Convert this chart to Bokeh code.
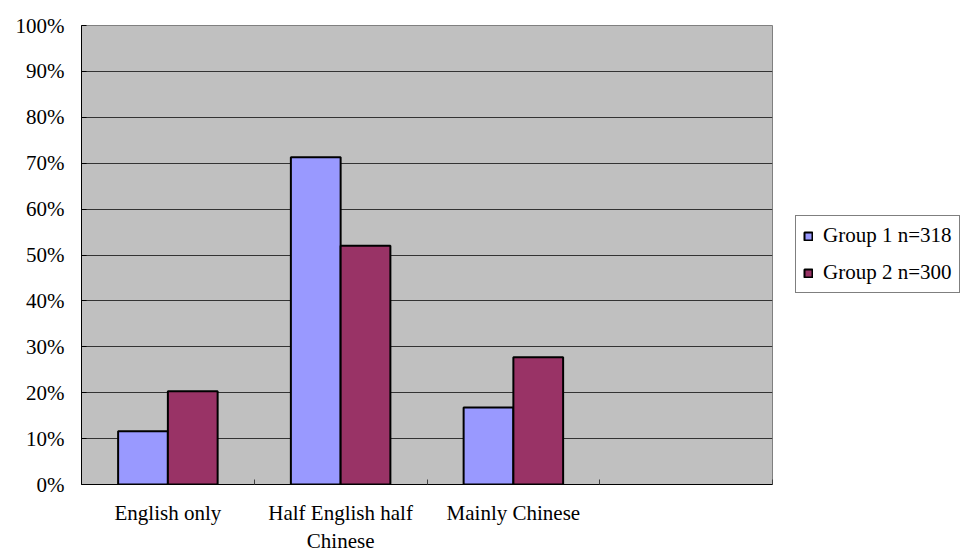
from bokeh.plotting import figure
from bokeh.models import (ColumnDataSource, Range1d, FixedTicker, NumeralTickFormatter,
                          Legend, LegendItem)
from bokeh.transform import dodge
from bokeh.embed import file_html
from bokeh.resources import INLINE

# Language used, share of respondents per group
categories = ["English only", "Half English half\nChinese", "Mainly Chinese"]
group1 = [0.116, 0.713, 0.168]
group2 = [0.203, 0.520, 0.277]
series_names = ["Group 1 n=318", "Group 2 n=300"]
series_colors = ["#9999FF", "#993366"]
y_ticks = [0.0, 0.1, 0.2, 0.3, 0.4, 0.5, 0.6, 0.7, 0.8, 0.9, 1.0]
n_slots = 4  # the category axis keeps one empty slot on the right

FONT = "Liberation Serif"
FONT_SIZE = "21px"

centers = [i + 0.5 for i in range(len(categories))]
source = ColumnDataSource(dict(x=centers, g1=group1, g2=group2))

p = figure(frame_width=691, frame_height=459, output_backend="svg",
           toolbar_location=None,
           x_range=Range1d(0, n_slots), y_range=Range1d(0, 1),
           min_border_left=81, min_border_right=190, min_border_top=25,
           min_border_bottom=70)

p.background_fill_color = "#C0C0C0"
p.border_fill_color = "white"
p.outline_line_color = "#808080"
p.outline_line_width = 1

bar_w = 0.288
r1 = p.vbar(x=dodge("x", -bar_w / 2, range=p.x_range), top="g1", width=bar_w,
            source=source, fill_color=series_colors[0], line_color="black",
            line_width=2)
r2 = p.vbar(x=dodge("x", bar_w / 2, range=p.x_range), top="g2", width=bar_w,
            source=source, fill_color=series_colors[1], line_color="black",
            line_width=2)

# grid
p.xgrid.grid_line_color = None
p.ygrid.ticker = FixedTicker(ticks=y_ticks)
p.ygrid.grid_line_color = "#333333"
p.ygrid.grid_line_width = 1

# y axis
p.yaxis.ticker = FixedTicker(ticks=y_ticks)
p.yaxis.formatter = NumeralTickFormatter(format="0%")
p.yaxis.axis_line_color = "black"
p.yaxis.axis_line_width = 1
p.yaxis.major_tick_in = 5
p.yaxis.major_tick_out = 0
p.yaxis.minor_tick_line_color = None
p.yaxis.major_label_standoff = 17
p.yaxis.major_label_text_font = FONT
p.yaxis.major_label_text_font_size = FONT_SIZE
p.yaxis.major_label_text_color = "black"

# x axis: labels at slot centres, small boundary ticks between slots
p.xaxis.ticker = FixedTicker(ticks=centers,
                             minor_ticks=[float(i) for i in range(n_slots + 1)])
p.xaxis.major_label_overrides = {c: lab for c, lab in zip(centers, categories)}
p.xaxis.major_tick_line_color = None
p.xaxis.major_tick_in = 0
p.xaxis.major_tick_out = 0
p.xaxis.minor_tick_in = 5
p.xaxis.minor_tick_out = 0
p.xaxis.minor_tick_line_color = "#404040"
p.xaxis.axis_line_color = "black"
p.xaxis.axis_line_width = 1
p.xaxis.major_label_standoff = 16
p.xaxis.major_label_text_font = FONT
p.xaxis.major_label_text_font_size = FONT_SIZE
p.xaxis.major_label_text_color = "black"

legend = Legend(items=[LegendItem(label=series_names[0], renderers=[r1]),
                       LegendItem(label=series_names[1], renderers=[r2])],
                location=(23, 191))
legend.border_line_color = "black"
legend.border_line_width = 1
legend.background_fill_color = "white"
legend.background_fill_alpha = 1
legend.label_text_font = FONT
legend.label_text_font_size = FONT_SIZE
legend.label_text_color = "black"
legend.glyph_width = 10
legend.glyph_height = 10
legend.label_height = 10
legend.label_standoff = 10
legend.padding = 7
legend.spacing = 12
legend.margin = 0
p.add_layout(legend, "right")

open("out.html", "w").write(file_html(p, INLINE))
